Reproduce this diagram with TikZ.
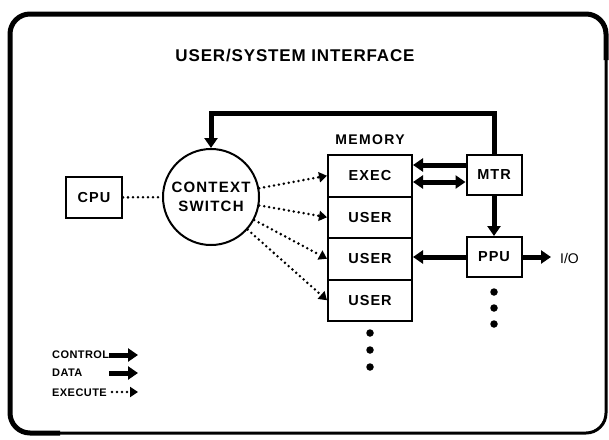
\documentclass[tikz,border=0pt]{standalone}
\usepackage{fontspec}
\setmainfont{Liberation Sans}
\usetikzlibrary{arrows.meta}
\begin{document}
\begin{tikzpicture}[x=1pt,y=-1pt,
  box/.style={draw,line width=2pt,inner sep=0pt,font=\bfseries\fontsize{14.5}{17}\selectfont\addfontfeatures{LetterSpace=7}},
  ctrl/.style={line width=5pt,-{Triangle[length=10pt,width=13pt]}},
  dctrl/.style={line width=5pt,{Triangle[length=10pt,width=13pt]}-{Triangle[length=10pt,width=13pt]}},
  dotline/.style={line width=2.8pt,dash pattern=on 0pt off 5pt,line cap=round},
  exe/.style={dotline,-{Triangle[length=8pt,width=10pt,line cap=butt]}},
  lbl/.style={font=\bfseries\fontsize{11}{13}\selectfont\addfontfeatures{LetterSpace=4},anchor=west,inner sep=0pt},
  dot/.style={fill,circle,inner sep=0pt,minimum size=7.5pt}]
\useasboundingbox (0,0) rectangle (609,439);
% frame
\draw[line width=3pt,rounded corners=20pt] (10,14) rectangle (606,433);
\draw[line width=5pt,rounded corners=20pt] (60,433) -- (10,433) -- (10,14) -- (606,14) -- (606,60);
% title
\node[font=\bfseries\fontsize{17}{20}\selectfont\addfontfeatures{LetterSpace=5}] (title) at (295,56) {USER/SYSTEM INTERFACE};
% nodes
\node[box,minimum width=56pt,minimum height=41pt] (cpu) at (94,197.5) {CPU};
\node[box,circle,minimum size=96pt,align=center,font=\bfseries\fontsize{15}{19}\selectfont\addfontfeatures{LetterSpace=8}] (cs) at (211,197) {CONTEXT\\SWITCH};
\node[font=\bfseries\fontsize{14}{16}\selectfont\addfontfeatures{LetterSpace=10}] (memlbl) at (370,140) {MEMORY};
\node[box,minimum width=84pt,minimum height=41.5pt] (exec) at (370,175.75) {EXEC};
\node[box,minimum width=84pt,minimum height=41.5pt] (u1) at (370,217.25) {USER};
\node[box,minimum width=84pt,minimum height=41.5pt] (u2) at (370,258.75) {USER};
\node[box,minimum width=84pt,minimum height=41.5pt] (u3) at (370,300.25) {USER};
\node[box,minimum width=55pt,minimum height=40pt] (mtr) at (494,175) {MTR};
\node[box,minimum width=55pt,minimum height=40pt] (ppu) at (494,257) {PPU};
\node[font=\fontsize{14}{16}\selectfont,anchor=west,inner sep=0pt] (io) at (560,258) {I/O};
\coordinate (ioend) at (551,257);
\coordinate (tr) at (494,113);
\coordinate (tl) at (211,113);
% dots
\node[dot] (d1) at (370,333) {};
\node[dot] (d2) at (370,350) {};
\node[dot] (d3) at (370,367) {};
\node[dot] (e1) at (494,292) {};
\node[dot] (e2) at (494,308) {};
\node[dot] (e3) at (494,324) {};
% connectors
\draw[dotline] (cpu) -- (cs);
\draw[exe] (cs) -- (exec.west);
\draw[exe] (cs) -- (u1.west);
\draw[exe] (cs) -- (u2.west);
\draw[exe] (cs) -- (u3.west);
\draw[ctrl] (mtr.north) -- (tr) -- (tl) -- (cs.north);
\draw[ctrl] ([yshift=10pt]mtr.west) -- ([yshift=10pt]mtr.west -| exec.east);
\draw[dctrl] ([yshift=-7pt]mtr.west) -- ([yshift=-7pt]mtr.west -| exec.east);
\draw[ctrl] (mtr.south) -- (ppu.north);
\draw[ctrl] (ppu.west) -- (ppu.west -| u2.east);
\draw[ctrl] (ppu.east) -- (ioend);
% legend
\node[lbl] (lc) at (52,355) {CONTROL};
\node[lbl] (ld) at (52,373) {DATA};
\node[lbl] (le) at (52,393) {EXECUTE};
\coordinate (lc1) at (109,355); \coordinate (lc2) at (138,355);
\coordinate (ld1) at (109,373); \coordinate (ld2) at (138,373);
\coordinate (le1) at (112,392); \coordinate (le2) at (138,392);
\draw[ctrl] (lc1) -- (lc2);
\draw[ctrl] (ld1) -- (ld2);
\draw[exe] (le1) -- (le2);
\end{tikzpicture}
\end{document}
